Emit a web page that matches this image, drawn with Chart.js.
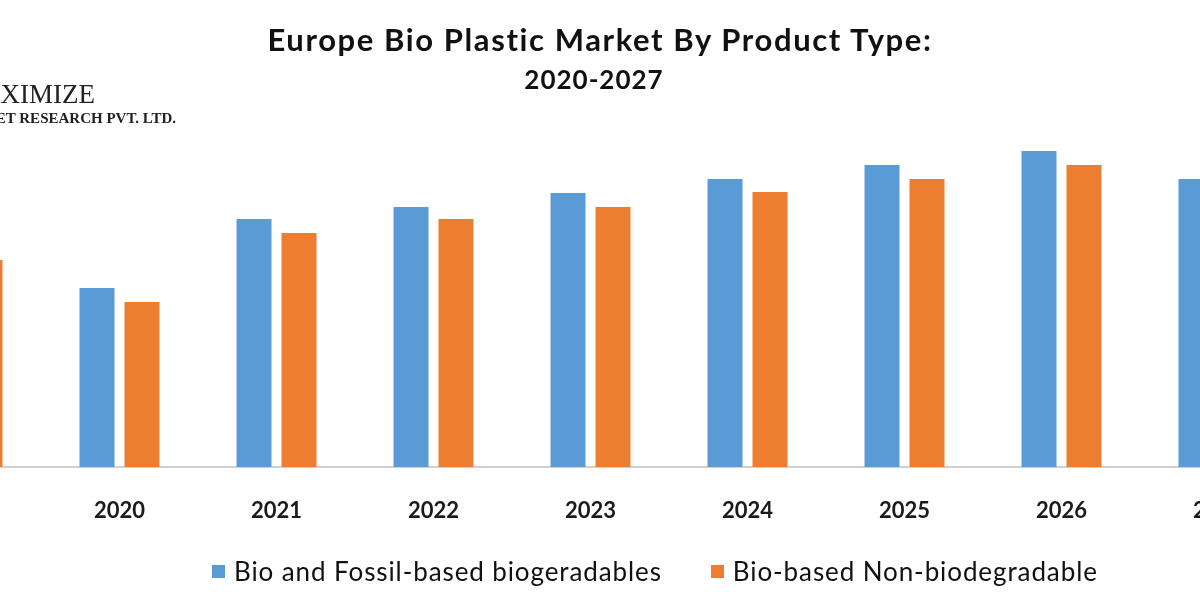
<!DOCTYPE html>
<html>
<head>
<meta charset="utf-8">
<title>Europe Bio Plastic Market By Product Type</title>
<script src="https://cdn.jsdelivr.net/npm/chart.js@4.4.1/dist/chart.umd.min.js"></script>
<style>
    html, body {
        margin: 0;
        padding: 0;
        width: 1200px;
        height: 600px;
        overflow: hidden;
        background: #ffffff;
        font-family: Lato, "Open Sans", sans-serif;
    }
    .page {
        position: relative;
        width: 1200px;
        height: 600px;
        overflow: hidden;
    }
    /* the plot is wider than the page: first and last year are cut off like in the picture */
    #chartBox {
        position: absolute;
        left: -116px;
        top: 0;
        width: 1413px;
        height: 600px;
    }
    .title {
        position: absolute;
        left: 0;
        width: 1200px;
        text-align: center;
        color: #111;
        font-weight: 700;
        white-space: nowrap;
    }
    #title1 { top: 20px; font-size: 31px; letter-spacing: 1.6px; }
    #title2 { top: 63px; font-size: 26px; letter-spacing: 1px; left: -6px; }
    .logo {
        position: absolute;
        right: 1105px;
        font-family: "Liberation Serif", "DejaVu Serif", serif;
        color: #222;
        white-space: nowrap;
        text-align: right;
    }
    #logo1 { top: 79px; font-size: 27px; }
    #logo2 { top: 110px; font-size: 15px; right: 1024px; font-weight: 700; }
    #legend {
        position: absolute;
        left: 212px;
        top: 555px;
        display: flex;
        align-items: center;
        font-size: 26px;
        letter-spacing: 0.9px;
        color: #111;
        white-space: nowrap;
    }
    .legend-item { display: flex; align-items: center; margin-right: 49px; }
    .legend-box { width: 13px; height: 13px; margin-right: 9px; }
</style>
</head>
<body>
<div class="page">
    <div id="chartBox"><canvas id="chart"></canvas></div>
    <div class="title" id="title1">Europe Bio Plastic Market By Product Type:</div>
    <div class="title" id="title2">2020-2027</div>
    <div class="logo" id="logo1">MAXIMIZE</div>
    <div class="logo" id="logo2">MARKET RESEARCH PVT. LTD.</div>
    <div id="legend"></div>
</div>
<script>
// categories (2019 and 2027 are only partly in view)
const years = ['2019', '2020', '2021', '2022', '2023', '2024', '2025', '2026', '2027'];

// series values (no axis in the picture, arbitrary units)
const bioFossil = [22.0, 17.9, 24.8, 26.0, 27.4, 28.8, 30.2, 31.6, 28.8];
const bioNonBiodegradable = [20.7, 16.5, 23.4, 24.8, 26.0, 27.5, 28.8, 30.2, 27.5];

const seriesNames = ['Bio and Fossil-based biogeradables', 'Bio-based Non-biodegradable'];
const seriesColors = ['#5b9bd5', '#ed7d31'];

Chart.defaults.font.family = 'Lato, "Open Sans", sans-serif';

var ctx = document.getElementById('chart').getContext('2d');

var config = {
    type: 'bar',
    data: {
        labels: years,
        datasets: [{
            label: seriesNames[0],
            data: bioFossil,
            backgroundColor: seriesColors[0],
            categoryPercentage: 0.573,
            barPercentage: 0.778
        }, {
            label: seriesNames[1],
            data: bioNonBiodegradable,
            backgroundColor: seriesColors[1],
            categoryPercentage: 0.573,
            barPercentage: 0.778
        }]
    },
    options: {
        responsive: true,
        maintainAspectRatio: false,
        animation: false,
        layout: {
            padding: {
                left: 0,
                right: 0,
                top: 117,
                bottom: 44.6
            }
        },
        scales: {
            x: {
                grid: {
                    display: false,
                    drawTicks: false
                },
                border: {
                    display: true,
                    color: '#d0d0d0',
                    width: 2
                },
                ticks: {
                    autoSkip: false,
                    maxRotation: 0,
                    padding: 31,
                    color: '#1a1a1a',
                    font: {
                        size: 22,
                        weight: 'bold'
                    }
                }
            },
            y: {
                display: false,
                min: 0,
                max: 35
            }
        },
        plugins: {
            legend: {
                display: false
            },
            tooltip: {
                enabled: false
            }
        }
    }
};

var chart = new Chart(ctx, config);

// legend built from the chart's own datasets
var legendEl = document.getElementById('legend');
chart.data.datasets.forEach(function(ds) {
    var item = document.createElement('div');
    item.className = 'legend-item';
    var box = document.createElement('span');
    box.className = 'legend-box';
    box.style.background = ds.backgroundColor;
    var text = document.createElement('span');
    text.textContent = ds.label;
    item.appendChild(box);
    item.appendChild(text);
    legendEl.appendChild(item);
});
</script>
</body>
</html>
